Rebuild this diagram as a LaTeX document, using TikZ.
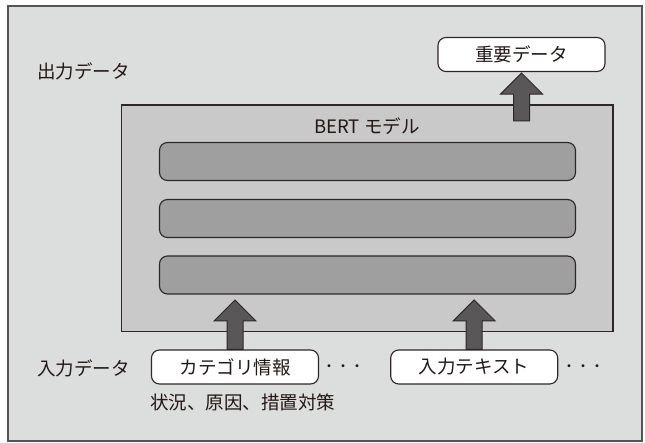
\documentclass[tikz,border=0pt]{standalone}
\usepackage{fontspec}
\setmainfont{Noto Sans CJK JP}
\usetikzlibrary{calc}
\definecolor{bgframe}{HTML}{DCDDDD}
\definecolor{modelfill}{HTML}{C9C9C9}
\definecolor{barfill}{HTML}{9F9F9F}
\definecolor{arrowfill}{HTML}{595757}
\definecolor{inkline}{HTML}{2F2725}
\definecolor{txt}{HTML}{231815}
\tikzset{
  frame/.style={draw=inkline!80, line width=1.2pt, fill=bgframe},
  modelbox/.style={draw=inkline, line width=1.2pt, fill=modelfill},
  layerbar/.style={draw=inkline, line width=1.1pt, fill=barfill, rounded corners=8pt},
  databox/.style={draw=inkline, line width=1.1pt, fill=white, rounded corners=8pt,
    minimum width=167pt, minimum height=34pt, inner sep=0pt, text=txt,
    font=\fontsize{18.5}{21}\selectfont},
  lbl/.style={text=txt, inner sep=0pt, font=\fontsize{18.5}{21}\selectfont},
  dotlbl/.style={text=txt, inner sep=0pt, font=\fontsize{14}{16}\selectfont},
  blockarrow/.style={draw=inkline, line width=1pt, fill=arrowfill, line join=miter},
}
\begin{document}
\begin{tikzpicture}[x=1pt,y=-1pt]
\useasboundingbox (0,0) rectangle (645,443);
% outer frame
\draw[frame] (8,6) rectangle (642,441);
% model box
\draw[modelbox] (121.5,105) rectangle (613,331.5);
\node[lbl] (bert) at (367,126) {BERT モデル};
% layers
\draw[layerbar] (159.5,142.5) rectangle (575.5,180.5);
\draw[layerbar] (159.5,199.5) rectangle (575.5,237.5);
\draw[layerbar] (159.5,256) rectangle (575.5,294);
% labels
\node[lbl, anchor=west] (outlbl) at (37,71.5) {出力データ};
\node[lbl, anchor=west] (inlbl) at (37,368) {入力データ};
% data boxes
\node[databox] (imp) at (521.5,54.5) {重要データ};
\node[databox] (cat) at (235,367) {カテゴリ情報};
\node[databox] (txtin) at (474.2,367) {入力テキスト};
\node[dotlbl] (dots1) at (343,368) {・・・};
\node[dotlbl] (dots2) at (583,368) {・・・};
\node[lbl, anchor=west] (sub) at (150,402) {状況、原因、措置対策};
% arrow anchors
\coordinate (tipA) at (235,300);
\coordinate (tipB) at (474.2,300);
\coordinate (outbase) at (521.5,121);
% block arrows
\draw[blockarrow] let \p1=(cat.north), \p2=(tipA) in
  (\x1-8pt,\y1) -- (\x1-8pt,\y2-21pt) -- (\x1-21pt,\y2-21pt) -- (\x1,\y2)
  -- (\x1+21pt,\y2-21pt) -- (\x1+8pt,\y2-21pt) -- (\x1+8pt,\y1) -- cycle;
\draw[blockarrow] let \p1=(txtin.north), \p2=(tipB) in
  (\x1-8pt,\y1) -- (\x1-8pt,\y2-21pt) -- (\x1-21pt,\y2-21pt) -- (\x1,\y2)
  -- (\x1+21pt,\y2-21pt) -- (\x1+8pt,\y2-21pt) -- (\x1+8pt,\y1) -- cycle;
\draw[blockarrow] let \p1=(outbase), \p2=([yshift=-1pt]imp.south) in
  (\x1-8pt,\y1) -- (\x1-8pt,\y2-21pt) -- (\x1-21pt,\y2-21pt) -- (\x1,\y2)
  -- (\x1+21pt,\y2-21pt) -- (\x1+8pt,\y2-21pt) -- (\x1+8pt,\y1) -- cycle;
\end{tikzpicture}
\end{document}
